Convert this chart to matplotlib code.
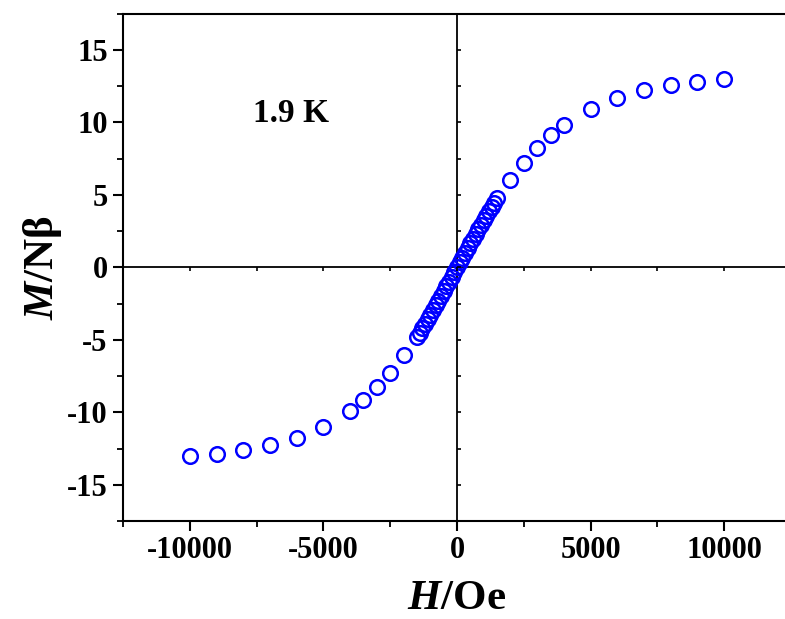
import numpy as np
import matplotlib
matplotlib.use('Agg')
import matplotlib.pyplot as plt
from matplotlib.ticker import MultipleLocator, NullFormatter

plt.rcParams['font.family'] = ['Liberation Serif', 'DejaVu Serif']
plt.rcParams['font.weight'] = 'bold'
plt.rcParams['axes.unicode_minus'] = False
plt.rcParams['mathtext.fontset'] = 'custom'
plt.rcParams['mathtext.it'] = 'Liberation Serif:italic:bold'
plt.rcParams['mathtext.bf'] = 'Liberation Serif:bold'
plt.rcParams['mathtext.rm'] = 'Liberation Serif:bold'

# field (Oe) and magnetisation (N beta)
H = [-10000, -9000, -8000, -7000, -6000, -5000, -4000, -3500, -3000, -2500, -2000,
     -1500, -1400, -1300, -1200, -1100, -1000, -900, -800, -700, -600, -500, -400,
     -300, -200, -100, 0, 100, 200, 300, 400, 500, 600, 700, 800, 900, 1000, 1100,
     1200, 1300, 1400, 1500, 2000, 2500, 3000, 3500, 4000, 5000, 6000, 7000, 8000,
     9000, 10000]
M = [-13.0, -12.85, -12.6, -12.25, -11.75, -11.0, -9.9, -9.15, -8.25, -7.3, -6.05,
     -4.8, -4.5, -4.2, -3.9, -3.58, -3.27, -2.95, -2.63, -2.31, -1.98, -1.65, -1.32,
     -0.99, -0.66, -0.33, 0.0, 0.33, 0.66, 0.99, 1.32, 1.65, 1.98, 2.3, 2.62, 2.94,
     3.25, 3.56, 3.86, 4.16, 4.46, 4.75, 6.0, 7.2, 8.25, 9.15, 9.8, 10.9, 11.7,
     12.2, 12.55, 12.8, 12.95]

xlim = (-12500, 12500)
ylim = (-17.5, 17.5)
rect = [123/785, 98/619, 668/785, 507.5/619]

fig = plt.figure(figsize=(7.85, 6.19), dpi=100)
ax = fig.add_axes(rect)
ax.set_xlim(xlim)
ax.set_ylim(ylim)

ax.axhline(0, color='black', lw=1.3, zorder=1)
ax.axvline(0, color='black', lw=1.3, zorder=1)
ax.plot(H, M, 'o', mfc='none', mec='#0000ff', ms=10.5, mew=1.8, zorder=3)

ax.xaxis.set_major_locator(MultipleLocator(5000))
ax.xaxis.set_minor_locator(MultipleLocator(2500))
ax.yaxis.set_major_locator(MultipleLocator(5))
ax.yaxis.set_minor_locator(MultipleLocator(2.5))
ax.tick_params(which='major', direction='out', length=7, width=1.5, labelsize=22, pad=4)
ax.tick_params(which='minor', direction='out', length=4, width=1.3)
ax.tick_params(top=False, right=False, which='both')
for s in ax.spines.values():
    s.set_linewidth(1.5)

ax.set_xlabel(r'$\mathit{H}\mathbf{/Oe}$', fontsize=31, labelpad=10)
ax.set_ylabel(r'$\mathit{M}\mathbf{/Nβ}$', fontsize=31, labelpad=2)

ax.text(-6200, 10.6, '1.9 K', fontsize=24, fontweight='bold', ha='center', va='center')

# small ticks along the zero lines
ax2 = fig.add_axes(rect, frameon=True)
ax2.patch.set_visible(False)
ax2.set_xlim(xlim)
ax2.set_ylim(ylim)
for side in ['top', 'right', 'left', 'bottom']:
    ax2.spines[side].set_visible(False)
ax2.spines['left'].set_position(('data', 0))
ax2.spines['bottom'].set_position(('data', 0))
ax2.xaxis.set_major_locator(MultipleLocator(2500))
ax2.yaxis.set_major_locator(MultipleLocator(2.5))
ax2.xaxis.set_major_formatter(NullFormatter())
ax2.yaxis.set_major_formatter(NullFormatter())
ax2.tick_params(axis='x', direction='out', length=3, width=1.2)
ax2.tick_params(axis='y', direction='in', length=3, width=1.2)

fig.savefig('out.png', dpi=100)
